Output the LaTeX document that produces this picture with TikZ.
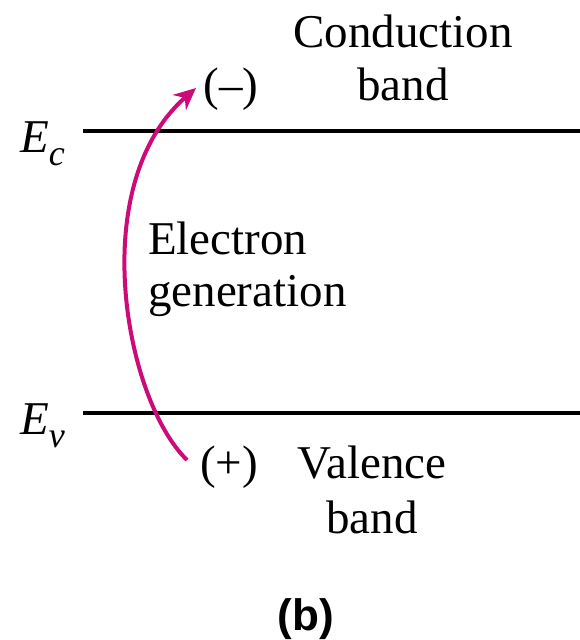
\documentclass[tikz,border=0pt]{standalone}
\usepackage{fontspec}
\setmainfont{Liberation Serif}
\newfontfamily\labsans{Liberation Sans}
\usetikzlibrary{arrows.meta}
\definecolor{arrowmag}{HTML}{CC0A78}
\newcommand{\lvsub}[2]{\textit{#1}\raisebox{-0.28em}{\fontsize{36}{36}\selectfont\textit{#2}}}
\tikzset{
  lbl/.style={anchor=base, inner sep=0pt, font=\fontsize{47}{55}\selectfont},
  lblL/.style={anchor=base west, inner sep=0pt, font=\fontsize{47}{55}\selectfont},
  level/.style={line width=4pt, black},
  genarrow/.style={line width=4pt, arrowmag, -{Stealth[length=22pt,width=20pt]}}
}
\begin{document}
\begin{tikzpicture}[x=1pt,y=-1pt]
\useasboundingbox (0,0) rectangle (580,640);
\coordinate (ec0) at (83,131);
\coordinate (ec1) at (580,131);
\coordinate (ev0) at (83,413);
\coordinate (ev1) at (580,413);
\draw[level] (ec0) -- (ec1);
\draw[level] (ev0) -- (ev1);
\node[lbl] (cond) at (403,47) {Conduction};
\node[lbl] (cband) at (403,100) {band};
\node[lbl] (minus) at (231,100) {(–)};
\node[lblL] (Ec) at (20,152) {\lvsub{E}{c}};
\node[lblL] (elec) at (148,254) {Electron};
\node[lblL] (gen) at (148,306) {generation};
\node[lblL] (Ev) at (20,434) {\lvsub{E}{v}};
\node[lbl] (plus) at (229,478) {(+)};
\node[lbl] (val) at (372,478) {Valence};
\node[lbl] (vband) at (372,533) {band};
\node[anchor=base, inner sep=0pt, font=\labsans\bfseries\fontsize{44}{50}\selectfont] (b) at (306,630) {(b)};
\coordinate (start) at (187,460);
\coordinate (tip) at (196,88);
\draw[genarrow] (start) .. controls (125,400) and (85,185) .. (tip);
\end{tikzpicture}
\end{document}
